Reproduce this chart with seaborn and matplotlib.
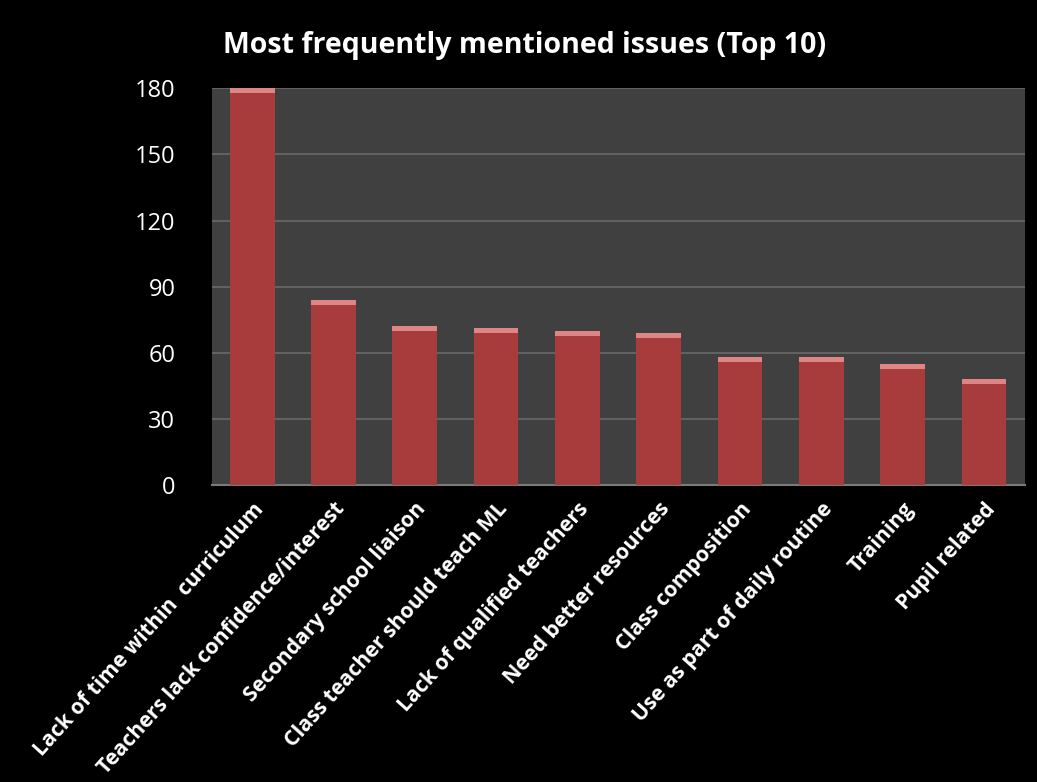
import numpy as np
import pandas as pd
import seaborn as sns
import matplotlib.pyplot as plt

issues = [
    "Lack of time within  curriculum",
    "Teachers lack confidence/interest",
    "Secondary school liaison",
    "Class teacher should teach ML",
    "Lack of qualified teachers",
    "Need better resources",
    "Class composition",
    "Use as part of daily routine",
    "Training",
    "Pupil related",
]
mentions = [180, 84, 72, 71, 70, 69, 58, 58, 55, 48]
y_ticks = [0, 30, 60, 90, 120, 150, 180]

df = pd.DataFrame({"issue": issues, "mentions": mentions})

sns.set_theme(style="dark")
plt.rcParams['font.family'] = ['Open Sans', 'DejaVu Sans']

fig = plt.figure(figsize=(10.37, 7.82), dpi=100, facecolor='black')
ax = fig.add_axes([0.204, 0.380, 0.784, 0.507])
ax.set_facecolor('#404040')

sns.barplot(data=df, x="issue", y="mentions", color='#A83B3B',
            saturation=1, width=0.55, linewidth=0, ax=ax, zorder=3)

# lighter cap on top of each bar
cap = 2.2
ax.bar(np.arange(len(mentions)), [cap] * len(mentions),
       bottom=np.array(mentions) - cap, width=0.55,
       color='#E08585', linewidth=0, zorder=4)

ax.set_ylim(0, 180)
ax.set_xlim(-0.5, len(issues) - 0.5)
ax.set_yticks(y_ticks)
ax.yaxis.grid(True, color='#6a6a6a', linewidth=1.2, zorder=0)
ax.xaxis.grid(False)

ax.tick_params(axis='y', colors='white', labelsize=17, length=0, pad=26)
ax.tick_params(axis='x', colors='white', length=0, pad=10)
ax.set_xticks(range(len(issues)))
ax.set_xticklabels(issues, rotation=48, ha='right', rotation_mode='anchor',
                   fontsize=15.3, fontweight='bold', color='white')

ax.set_xlabel("")
ax.set_ylabel("")
for side in ['top', 'right', 'left']:
    ax.spines[side].set_visible(False)
ax.spines['bottom'].set_color('#7a7a7a')
ax.spines['bottom'].set_linewidth(1.5)

fig.text(0.506, 0.942, "Most frequently mentioned issues (Top 10)",
         ha='center', va='center', color='white', fontsize=20.5, fontweight='bold')

fig.savefig("out.png", dpi=100, facecolor='black')
